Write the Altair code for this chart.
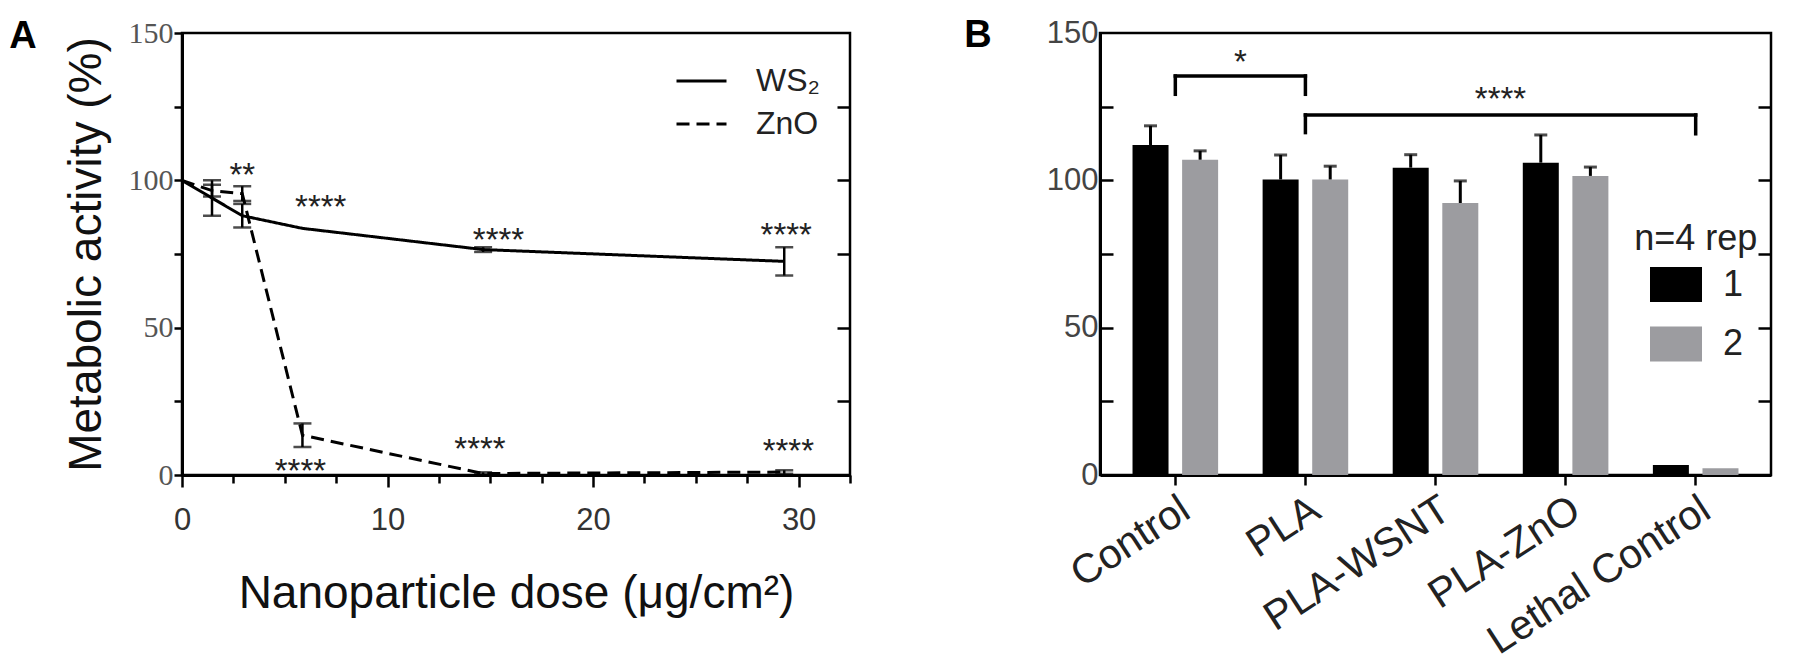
import altair as alt
import pandas as pd

# ---------------- Panel A data ----------------
dose = [0, 1.46, 2.93, 5.86, 14.65, 29.3]
ws2_mean = [100, 94.0, 88.0, 83.7, 76.5, 72.5]
ws2_err = [0, 6.0, 4.0, 0, 0.8, 4.8]
zno_mean = [100, 96.5, 95.5, 13.5, 0.5, 1.0]
zno_err = [0, 2.0, 2.5, 4.0, 0.4, 0.6]
series_names = ["WS₂", "ZnO"]

sig_a_dose = [2.93, 6.75, 15.4, 29.4, 5.76, 14.5, 29.5]
sig_a_level = [104.5, 93.8, 82.5, 84.0, 4.0, 11.6, 10.8]
sig_a_text = ["**", "****", "****", "****", "****", "****", "****"]

# ---------------- Panel B data ----------------
groups = ["Control", "PLA", "PLA-WSNT", "PLA-ZnO", "Lethal Control"]
reps = ["1", "2"]
rep1_mean = [112.0, 100.3, 104.3, 106.0, 3.4]
rep1_err = [6.5, 8.3, 4.4, 9.4, 0]
rep2_mean = [107.0, 100.3, 92.3, 101.5, 2.3]
rep2_err = [3.0, 4.5, 7.5, 3.0, 0]

bracket_from = ["Control", "PLA"]
bracket_to = ["PLA", "Lethal Control"]
bracket_top = [135.4, 122.2]
bracket_from_foot = [129.2, 116.2]
bracket_to_foot = [129.2, 115.8]
bracket_text = ["*", "****"]
bracket_text_group = ["Control", "PLA-WSNT"]
bracket_text_level = [143.0, 130.2]

legend_b_title = "n=4 rep"
legend_b_title_group = "Lethal Control"
legend_b_title_level = 80.2

# ---------------- tables ----------------
line_rows, err_rows, cap_rows = [], [], []
for name, means, errs in [(series_names[0], ws2_mean, ws2_err), (series_names[1], zno_mean, zno_err)]:
    for d, m, e in zip(dose, means, errs):
        line_rows.append({"dose": d, "val": m, "series": name})
        if e > 0:
            err_rows.append({"dose": d, "lo": m - e, "hi": m + e})
            cap_rows.append({"dose": d, "val": m - e})
            cap_rows.append({"dose": d, "val": m + e})
df_line = pd.DataFrame(line_rows)
df_err = pd.DataFrame(err_rows)
df_cap = pd.DataFrame(cap_rows)
df_sig_a = pd.DataFrame({"dose": sig_a_dose, "val": sig_a_level, "txt": sig_a_text})

bar_rows = []
for g, m1, e1, m2, e2 in zip(groups, rep1_mean, rep1_err, rep2_mean, rep2_err):
    bar_rows.append({"group": g, "rep": reps[0], "val": m1, "err": e1, "hi": m1 + e1})
    bar_rows.append({"group": g, "rep": reps[1], "val": m2, "err": e2, "hi": m2 + e2})
df_bar = pd.DataFrame(bar_rows)
df_barerr = df_bar[df_bar["err"] > 0]

seg_rows = []
for f, t, top, ff, tf in zip(bracket_from, bracket_to, bracket_top, bracket_from_foot, bracket_to_foot):
    seg_rows.append({"group": f, "g2": t, "v1": top, "v2": top})
    seg_rows.append({"group": f, "g2": f, "v1": ff, "v2": top})
    seg_rows.append({"group": t, "g2": t, "v1": tf, "v2": top})
df_seg = pd.DataFrame(seg_rows)
df_sig_b = pd.DataFrame({"group": bracket_text_group, "val": bracket_text_level, "txt": bracket_text})
df_legtitle = pd.DataFrame({"group": [legend_b_title_group], "val": [legend_b_title_level], "txt": [legend_b_title]})

# ---------------- styling ----------------
SANS = "Liberation Sans"
SERIF = "Liberation Serif"
WA, HA = 668, 442
WB, HB = 671, 442

xA_scale = alt.Scale(domain=[0, 32.5], nice=False, zero=False)
yA_scale = alt.Scale(domain=[0, 150], nice=False)
yB_scale = alt.Scale(domain=[0, 150], nice=False)
xB_scale = alt.Scale(domain=groups, paddingInner=0.342, paddingOuter=0.25)
off_scale = alt.Scale(domain=reps, paddingInner=0.274, paddingOuter=0)

xA_axis = alt.Axis(
    values=[i * 2.5 for i in range(14)],
    labelExpr="datum.value % 10 === 0 ? datum.label : ''",
    tickSize={"condition": {"test": "datum.value % 10 === 0", "value": 12}, "value": 8},
    labelFont=SANS, labelFontSize=31, labelColor="#333", labelPadding=18,
    labelFlush=False, labelOverlap=False,
    title="Nanoparticle dose (μg/cm²)", titleFont=SANS, titleFontSize=46,
    titleFontWeight="normal", titleColor="#111", titlePadding=36,
)
yA_axis = alt.Axis(
    values=[0, 25, 50, 75, 100, 125, 150],
    labelExpr="datum.value % 50 === 0 ? datum.label : ''",
    tickSize=8, labelFont=SERIF, labelFontSize=30, labelColor="#555",
    labelPadding=1, labelFlush=False, labelOverlap=False,
    title="Metabolic activity (%)", titleFont=SANS, titleFontSize=46,
    titleFontWeight="normal", titleColor="#111", titlePadding=18,
)
yA_axis_in = alt.Axis(orient="left", offset=-WA, values=[25, 50, 75, 100, 125],
                      labels=False, domain=False, tickSize=13, title=None)

xA = alt.X("dose:Q", scale=xA_scale, axis=xA_axis)

lines = alt.Chart(df_line).mark_line(color="black", strokeWidth=3).encode(
    x=xA,
    y=alt.Y("val:Q", scale=yA_scale, axis=yA_axis),
    strokeDash=alt.StrokeDash(
        "series:N",
        scale=alt.Scale(domain=series_names, range=[[1, 0], [13, 7]]),
        legend=alt.Legend(orient="none", legendX=493, legendY=21.5, title=None,
                          symbolType="stroke", symbolSize=2500, symbolStrokeWidth=3,
                          symbolStrokeColor="black", labelFont=SANS, labelFontSize=32,
                          labelColor="#222", labelOffset=28, rowPadding=0, padding=0),
    ),
)
errs = alt.Chart(df_err).mark_rule(color="black", strokeWidth=2.5).encode(
    x=xA,
    y=alt.Y("lo:Q", scale=yA_scale, axis=yA_axis_in),
    y2="hi:Q",
)
caps = alt.Chart(df_cap).mark_tick(color="black", orient="horizontal", size=18, thickness=2.5).encode(
    x=xA,
    y=alt.Y("val:Q", scale=yA_scale, axis=None),
)
sig_a = alt.Chart(df_sig_a).mark_text(font=SANS, fontSize=33, color="#222",
                                      baseline="alphabetic", dy=19).encode(
    x=xA,
    y=alt.Y("val:Q", scale=yA_scale, axis=None),
    text="txt:N",
)
letter_a = alt.Chart(pd.DataFrame({"t": ["A"]})).mark_text(
    font=SANS, fontSize=38, fontWeight="bold", color="black", align="center", baseline="middle"
).encode(x=alt.value(-159), y=alt.value(3.5), text="t:N")

panel_a = alt.layer(lines, errs, caps, sig_a, letter_a).resolve_axis(y="independent").properties(
    width=WA, height=HA)

# ---------------- Panel B ----------------
xB_axis = alt.Axis(labelAngle=-33, labelFont=SANS, labelFontSize=41, labelColor="#222",
                   tickSize=10, labelPadding=4, title=None, labelOverlap=False, labelLimit=0)
yB_axis = alt.Axis(values=[0, 50, 100, 150], ticks=False, labelFont=SANS, labelFontSize=31,
                   labelColor="#444", labelPadding=2, labelFlush=False, labelOverlap=False,
                   title=None)
yB_axis_left_in = alt.Axis(orient="right", offset=-WB, values=[25, 50, 75, 100, 125],
                           labels=False, domain=False, tickSize=13, title=None)
yB_axis_right_in = alt.Axis(orient="left", offset=-WB, values=[25, 50, 75, 100, 125],
                            labels=False, domain=False, tickSize=13, title=None)

xB = alt.X("group:N", scale=xB_scale, axis=xB_axis)
xoff = alt.XOffset("rep:N", scale=off_scale)

bars = alt.Chart(df_bar).mark_bar().encode(
    x=xB, xOffset=xoff,
    y=alt.Y("val:Q", scale=yB_scale, axis=yB_axis),
    color=alt.Color("rep:N", scale=alt.Scale(domain=reps, range=["#000000", "#9c9ca0"]),
                    legend=alt.Legend(orient="none", legendX=550, legendY=225.5, title=None,
                                      symbolType="M-1,-0.673H1V0.673H-1Z", symbolSize=2704,
                                      symbolStrokeWidth=0, labelFont=SANS, labelFontSize=36,
                                      labelColor="#222", labelOffset=21, rowPadding=15.5,
                                      padding=0)),
)
bar_err = alt.Chart(df_barerr).mark_rule(color="black", strokeWidth=3).encode(
    x=xB, xOffset=xoff,
    y=alt.Y("val:Q", scale=yB_scale, axis=yB_axis_right_in),
    y2="hi:Q",
)
bar_cap = alt.Chart(df_barerr).mark_tick(color="black", orient="horizontal", size=13, thickness=3).encode(
    x=xB, xOffset=xoff,
    y=alt.Y("hi:Q", scale=yB_scale, axis=yB_axis_left_in),
)
brackets = alt.Chart(df_seg).mark_rule(color="black", strokeWidth=3.5, strokeCap="square").encode(
    x=xB,
    x2="g2:N",
    y=alt.Y("v1:Q", scale=yB_scale, axis=None),
    y2="v2:Q",
)
sig_b = alt.Chart(df_sig_b).mark_text(font=SANS, fontSize=33, color="#222",
                                      baseline="alphabetic", dy=19, dx=65).encode(
    x=xB,
    y=alt.Y("val:Q", scale=yB_scale, axis=None),
    text="txt:N",
)
leg_title = alt.Chart(df_legtitle).mark_text(font=SANS, fontSize=36, color="#222",
                                             baseline="middle", align="center").encode(
    x=xB,
    y=alt.Y("val:Q", scale=yB_scale, axis=None),
    text="txt:N",
)
letter_b = alt.Chart(pd.DataFrame({"t": ["B"]})).mark_text(
    font=SANS, fontSize=38, fontWeight="bold", color="black", align="center", baseline="middle"
).encode(x=alt.value(-122), y=alt.value(3), text="t:N")

panel_b = alt.layer(bars, bar_err, bar_cap, brackets, sig_b, leg_title, letter_b).resolve_axis(
    y="independent").properties(width=WB, height=HB)

chart = alt.hconcat(panel_a, panel_b, spacing=110).resolve_legend(
    color="independent", strokeDash="independent"
).properties(
    padding={"left": 0, "top": 7, "right": 0, "bottom": 0}
).configure(background="white").configure_view(
    stroke="black", strokeWidth=2.5
).configure_axis(
    grid=False, domainColor="black", domainWidth=3, tickColor="black", tickWidth=2.5
)

chart.save("out.html", embed_options={"renderer": "svg", "actions": False})
